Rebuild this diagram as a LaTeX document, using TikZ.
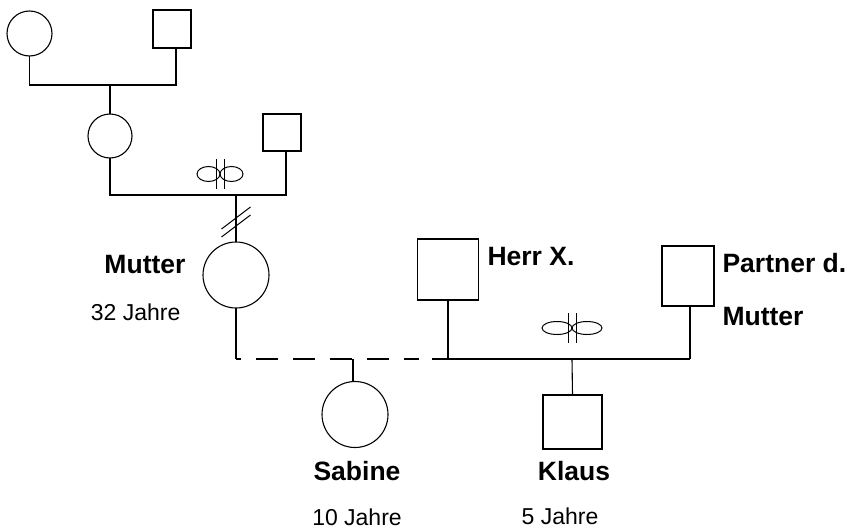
\documentclass[tikz,border=0pt]{standalone}
\usepackage{fontspec}
\setmainfont{Liberation Sans}
\newcommand{\vennsym}[4]{%
  \draw[thinline] (#1-#3,#2) ellipse[x radius=#3,y radius=#4];
  \draw[thinline] (#1+#3,#2) ellipse[x radius=#3,y radius=#4];
  \draw[thinline] (#1-4,#2-15) -- (#1-4,#2+15);
  \draw[thinline] (#1+4,#2-15) -- (#1+4,#2+15);}
\begin{document}
\begin{tikzpicture}[x=1pt,y=-1pt,line width=1.1pt,
  femnode/.style={circle,draw,inner sep=0pt,outer sep=0pt},
  malenode/.style={rectangle,draw,inner sep=0pt,outer sep=0pt},
  thinline/.style={line width=1pt},
  namelbl/.style={inner sep=0pt,font=\fontsize{26.5}{30}\selectfont\bfseries},
  agelbl/.style={inner sep=0pt,font=\fontsize{23}{28}\selectfont}]
\useasboundingbox (0,0) rectangle (859,530);
% grandparents
\node[femnode,minimum size=45pt] (gm) at (29.5,33.5) {};
\node[malenode,minimum width=38pt,minimum height=38pt] (gf) at (172,29) {};
\coordinate (j1) at (110,85);
\draw (gm.south) |- (j1) -| ([xshift=4pt]gf.south);
% mother's mother
\node[femnode,minimum size=44pt] (m0) at (110,136) {};
\draw (j1) -- (m0.north);
\node[malenode,minimum width=38pt,minimum height=37pt] (f0) at (282,132.5) {};
\coordinate (j2) at (236,195);
\draw (m0.south) |- (j2) -| ([xshift=4pt]f0.south);
\vennsym{220}{174}{11.5}{7.5}
% Mutter
\node[femnode,minimum size=66pt] (mu) at (236,275) {};
\draw (j2) -- (mu.north);
\coordinate (s1) at (236,218);
\draw[thinline] ([shift={(-14.5,11)}]s1) -- ([shift={(14.5,-11)}]s1);
\draw[thinline] ([shift={(-14.5,19)}]s1) -- ([shift={(14.5,-3)}]s1);
\node[namelbl,anchor=base east] (tmu) at (186,273) {Mutter};
\node[agelbl,anchor=base east] (amu) at (181,320) {32 Jahre};
% Herr X and partner
\node[malenode,minimum width=61pt,minimum height=61pt] (hx) at (448,269.5) {};
\node[namelbl,anchor=base west] (thx) at (487,265) {Herr X.};
\node[malenode,minimum width=52pt,minimum height=60pt] (pm) at (688,276) {};
\node[namelbl,anchor=base west] (tpm1) at (722,272) {Partner d.};
\node[namelbl,anchor=base west] (tpm2) at (722,325) {Mutter};
% lines at y=359
\coordinate (d0) at (236,359);
\coordinate (d1) at (419,359);
\coordinate (d2) at (432,359);
\coordinate (hxj) at (448,359);
\coordinate (pj) at (690,359);
\coordinate (sj) at (353,359);
\coordinate (kj) at (572,359);
\draw (mu.south) -- (d0);
\draw[dash pattern=on 22pt off 15pt,dash phase=17pt] (d0) -- (d1);
\draw (d2) -- (pj);
\draw (hx.south -| hxj) -- (hxj);
\draw ([xshift=2pt]pm.south) -- (pj);
\vennsym{572}{328}{15}{6.5}
% children
\node[femnode,minimum size=66pt] (sa) at (355,414.5) {};
\draw (sj) -- (sj |- sa.north);
\node[malenode,minimum width=59pt,minimum height=54pt] (kl) at (572.5,422) {};
\draw (kj) -- (kl.north);
\node[namelbl,anchor=base] (tsa) at (357,480) {Sabine};
\node[agelbl,anchor=base] (asa) at (357,525) {10 Jahre};
\node[namelbl,anchor=base] (tkl) at (574,480) {Klaus};
\node[agelbl,anchor=base] (akl) at (560,524) {5 Jahre};
\end{tikzpicture}
\end{document}
